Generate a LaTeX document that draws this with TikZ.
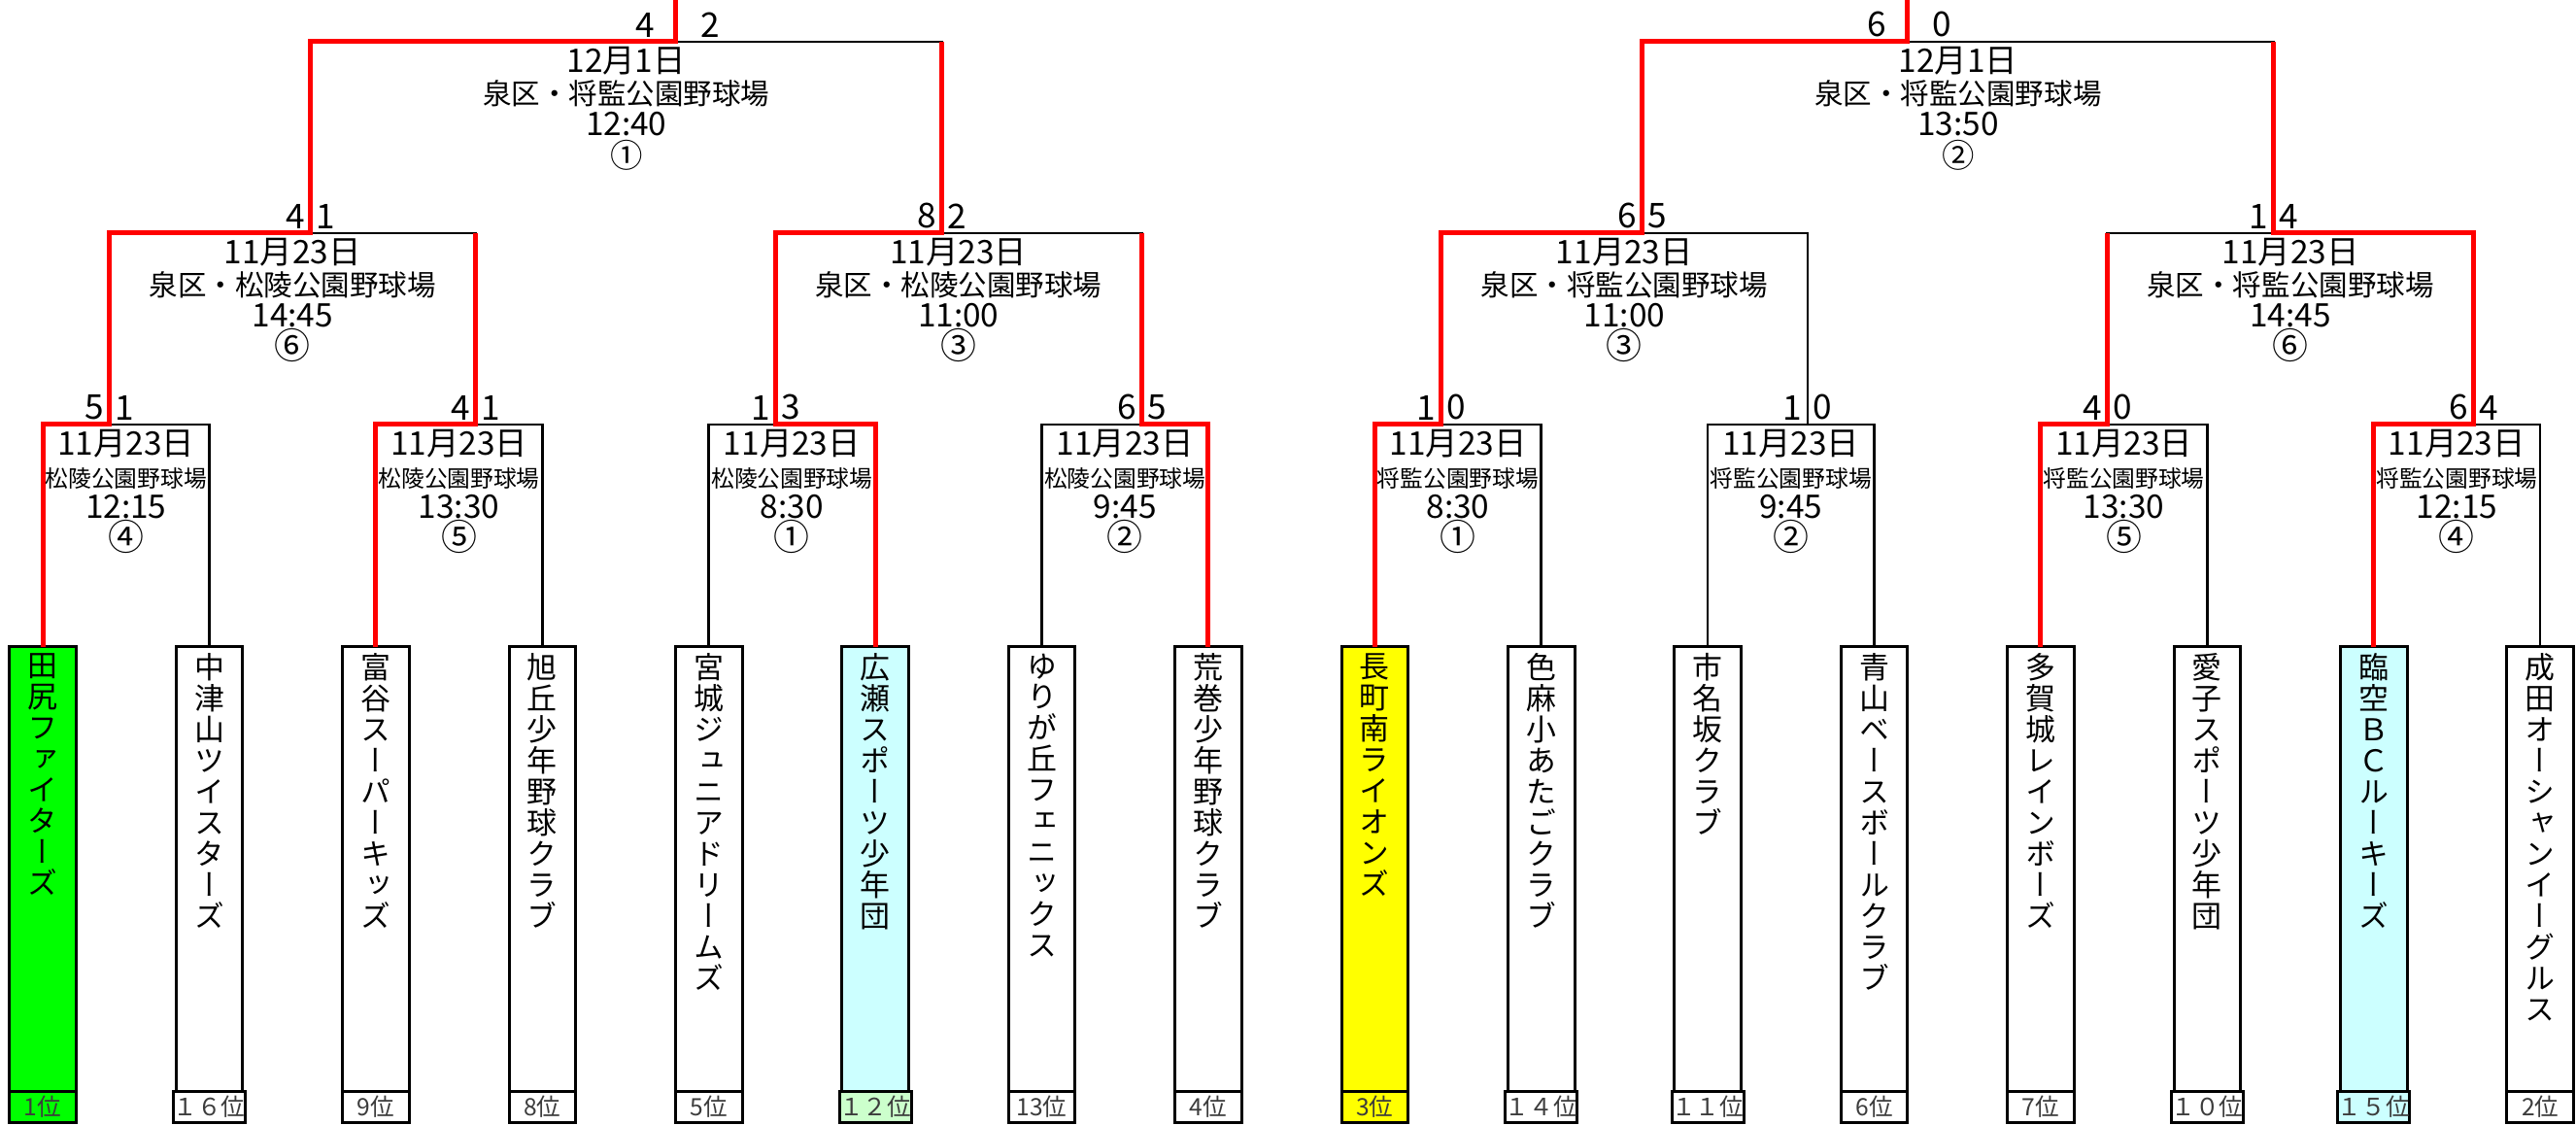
\documentclass[tikz,border=0pt]{standalone}
\usepackage{fontspec}
\setmainfont{Noto Sans CJK JP}
\newfontfamily\tatefont[RawFeature=+vert]{Noto Sans CJK JP}
\usepackage{tikz}
\usepackage{xcolor}
\usetikzlibrary{positioning, calc}

\definecolor{winred}{RGB}{255,0,0}
\definecolor{champ}{RGB}{0,255,0}
\definecolor{third}{RGB}{255,255,0}
\definecolor{pale}{RGB}{204,255,255}
\definecolor{palegreen}{RGB}{204,255,204}
\definecolor{rankgray}{RGB}{60,60,60}

\ExplSyntaxOn
\NewDocumentCommand\tate{m}
  {
    \vbox{\tl_map_inline:nn {#1} { \hbox_to_wd:nn {1em} { \hss ##1 \hss } }}
  }
\ExplSyntaxOff
\newcommand\venue[1]{{\fontsize{6.75pt}{9.25pt}\selectfont #1}}
\newcommand\hall[1]{{\fontsize{8.4pt}{9.25pt}\selectfont #1}}
\newcommand\gamenr[1]{{\fontsize{10.5pt}{9.25pt}\selectfont #1}}

\begin{document}
\begin{tikzpicture}[node distance=1.028cm,
  teambox/.style={draw,line width=0.03cm,rectangle,inner sep=0pt,outer sep=0pt,minimum width=0.686cm,minimum height=4.57cm},
  rankcell/.style={draw,line width=0.03cm,rectangle,inner sep=0pt,outer sep=0pt,minimum width=0.686cm,minimum height=0.325cm,text=rankgray,font=\fontsize{7pt}{7pt}\selectfont},
  tname/.style={anchor=north,inner sep=0pt,yshift=-0.06cm,font=\tatefont\fontsize{8.8pt}{9.1pt}\selectfont},
  matchinfo/.style={anchor=north,align=center,inner sep=0pt,font=\fontsize{9.5pt}{9.25pt}\selectfont},
  scoreL/.style={anchor=south east,inner sep=0pt,xshift=-0.05cm,yshift=0.04cm,font=\fontsize{10pt}{10pt}\selectfont},
  scoreR/.style={anchor=south west,inner sep=0pt,xshift=0.05cm,yshift=0.04cm,font=\fontsize{10pt}{10pt}\selectfont},
  bkline/.style={draw=black,line width=0.027cm},
  winline/.style={draw=winred,line width=0.05cm}]
  \useasboundingbox (0,0) rectangle (26.52,11.57);
  \fill[white] (0,0) rectangle (26.52,11.57);

  \node[teambox,fill=champ] (t1) at (0.441,2.625) {};
  \node[teambox,right=of t1] (t2) {};
  \node[teambox,right=of t2] (t3) {};
  \node[teambox,right=of t3] (t4) {};
  \node[teambox,right=of t4] (t5) {};
  \node[teambox,fill=pale,right=of t5] (t6) {};
  \node[teambox,right=of t6] (t7) {};
  \node[teambox,right=of t7] (t8) {};
  \node[teambox,fill=third,right=of t8] (t9) {};
  \node[teambox,right=of t9] (t10) {};
  \node[teambox,right=of t10] (t11) {};
  \node[teambox,right=of t11] (t12) {};
  \node[teambox,right=of t12] (t13) {};
  \node[teambox,right=of t13] (t14) {};
  \node[teambox,fill=pale,right=of t14] (t15) {};
  \node[teambox,right=of t15] (t16) {};

  \node[rankcell,fill=champ,below=0pt of t1] (r1) {1位};
  \node[rankcell,below=0pt of t2] (r2) {１６位};
  \node[rankcell,below=0pt of t3] (r3) {9位};
  \node[rankcell,below=0pt of t4] (r4) {8位};
  \node[rankcell,below=0pt of t5] (r5) {5位};
  \node[rankcell,fill=palegreen,below=0pt of t6] (r6) {１２位};
  \node[rankcell,below=0pt of t7] (r7) {13位};
  \node[rankcell,below=0pt of t8] (r8) {4位};
  \node[rankcell,fill=third,below=0pt of t9] (r9) {3位};
  \node[rankcell,below=0pt of t10] (r10) {１４位};
  \node[rankcell,below=0pt of t11] (r11) {１１位};
  \node[rankcell,below=0pt of t12] (r12) {6位};
  \node[rankcell,below=0pt of t13] (r13) {7位};
  \node[rankcell,below=0pt of t14] (r14) {１０位};
  \node[rankcell,fill=pale,below=0pt of t15] (r15) {１５位};
  \node[rankcell,below=0pt of t16] (r16) {2位};

  \node[tname] (n1) at (t1.north) {\tate{田尻ファイターズ}};
  \node[tname] (n2) at (t2.north) {\tate{中津山ツイスターズ}};
  \node[tname] (n3) at (t3.north) {\tate{富谷スーパーキッズ}};
  \node[tname] (n4) at (t4.north) {\tate{旭丘少年野球クラブ}};
  \node[tname] (n5) at (t5.north) {\tate{宮城ジュニアドリームズ}};
  \node[tname] (n6) at (t6.north) {\tate{広瀬スポーツ少年団}};
  \node[tname] (n7) at (t7.north) {\tate{ゆりが丘フェニックス}};
  \node[tname] (n8) at (t8.north) {\tate{荒巻少年野球クラブ}};
  \node[tname] (n9) at (t9.north) {\tate{長町南ライオンズ}};
  \node[tname] (n10) at (t10.north) {\tate{色麻小あたごクラブ}};
  \node[tname] (n11) at (t11.north) {\tate{市名坂クラブ}};
  \node[tname] (n12) at (t12.north) {\tate{青山ベースボールクラブ}};
  \node[tname] (n13) at (t13.north) {\tate{多賀城レインボーズ}};
  \node[tname] (n14) at (t14.north) {\tate{愛子スポーツ少年団}};
  \node[tname] (n15) at (t15.north) {\tate{臨空ＢＣルーキーズ}};
  \node[tname] (n16) at (t16.north) {\tate{成田オーシャンイーグルス}};

  \coordinate (m1) at ($(t1.north)+(0.686,2.29)$);
  \coordinate (m2) at ($(t4.north)+(-0.686,2.29)$);
  \coordinate (m3) at ($(t5.north)+(0.686,2.29)$);
  \coordinate (m4) at ($(t8.north)+(-0.686,2.29)$);
  \coordinate (m5) at ($(t9.north)+(0.686,2.29)$);
  \coordinate (m6) at ($(t12.north)+(-0.686,2.29)$);
  \coordinate (m7) at ($(t13.north)+(0.686,2.29)$);
  \coordinate (m8) at ($(t16.north)+(-0.686,2.29)$);
  \coordinate (q1) at ($(m1)+(2.07,1.97)$);
  \coordinate (q2) at ($(m3)+(1.714,1.97)$);
  \coordinate (q3) at ($(m5)+(2.07,1.97)$);
  \coordinate (q4) at ($(m7)+(1.714,1.97)$);
  \coordinate (f1) at ($(q1)+(3.757,1.97)$);
  \coordinate (f2) at ($(q3)+(2.73,1.97)$);
  \coordinate (top) at (0,11.57);

  \draw[bkline] (t1.north) |- (m1) -| (t2.north);
  \draw[bkline] (t3.north) |- (m2) -| (t4.north);
  \draw[bkline] (t5.north) |- (m3) -| (t6.north);
  \draw[bkline] (t7.north) |- (m4) -| (t8.north);
  \draw[bkline] (t9.north) |- (m5) -| (t10.north);
  \draw[bkline] (t11.north) |- (m6) -| (t12.north);
  \draw[bkline] (t13.north) |- (m7) -| (t14.north);
  \draw[bkline] (t15.north) |- (m8) -| (t16.north);
  \draw[bkline] (m1) |- (q1) -| (m2);
  \draw[bkline] (m3) |- (q2) -| (m4);
  \draw[bkline] (m5) |- (q3) -| (m6);
  \draw[bkline] (m7) |- (q4) -| (m8);
  \draw[bkline] (q1) |- (f1) -| (q2);
  \draw[bkline] (q3) |- (f2) -| (q4);

  \draw[winline] (t1.north) |- (m1) |- (q1) |- (f1) -- (f1 |- top);
  \draw[winline] (t3.north) |- (m2) -- (m2 |- q1);
  \draw[winline] (t6.north) |- (m3) |- (q2) -- (q2 |- f1);
  \draw[winline] (t8.north) |- (m4) -- (m4 |- q2);
  \draw[winline] (t9.north) |- (m5) |- (q3) |- (f2) -- (f2 |- top);
  \draw[winline] (t13.north) |- (m7) -- (m7 |- q4);
  \draw[winline] (t15.north) |- (m8) |- (q4) -- (q4 |- f2);

  \node[scoreL] (m1a) at (m1) {5};
  \node[scoreR] (m1b) at (m1) {1};
  \node[scoreL] (m2a) at (m2) {4};
  \node[scoreR] (m2b) at (m2) {1};
  \node[scoreL] (m3a) at (m3) {1};
  \node[scoreR] (m3b) at (m3) {3};
  \node[scoreL] (m4a) at (m4) {6};
  \node[scoreR] (m4b) at (m4) {5};
  \node[scoreL] (m5a) at (m5) {1};
  \node[scoreR] (m5b) at (m5) {0};
  \node[scoreL] (m6a) at (m6) {1};
  \node[scoreR] (m6b) at (m6) {0};
  \node[scoreL] (m7a) at (m7) {4};
  \node[scoreR] (m7b) at (m7) {0};
  \node[scoreL] (m8a) at (m8) {6};
  \node[scoreR] (m8b) at (m8) {4};
  \node[scoreL] (q1a) at (q1) {4};
  \node[scoreR] (q1b) at (q1) {1};
  \node[scoreL] (q2a) at (q2) {8};
  \node[scoreR] (q2b) at (q2) {2};
  \node[scoreL] (q3a) at (q3) {6};
  \node[scoreR] (q3b) at (q3) {5};
  \node[scoreL] (q4a) at (q4) {1};
  \node[scoreR] (q4b) at (q4) {4};
  \node[scoreL,xshift=-0.16cm] (f1a) at (f1) {4};
  \node[scoreR,xshift=0.2cm] (f1b) at (f1) {2};
  \node[scoreL,xshift=-0.16cm] (f2a) at (f2) {6};
  \node[scoreR,xshift=0.2cm] (f2b) at (f2) {0};

  \node[matchinfo] (i1) at ($(t1.north)!.5!(t2.north)+(0,2.24)$) {11月23日\\\venue{松陵公園野球場}\\12:15\\\gamenr{④}};
  \node[matchinfo] (i2) at ($(t3.north)!.5!(t4.north)+(0,2.24)$) {11月23日\\\venue{松陵公園野球場}\\13:30\\\gamenr{⑤}};
  \node[matchinfo] (i3) at ($(t5.north)!.5!(t6.north)+(0,2.24)$) {11月23日\\\venue{松陵公園野球場}\\8:30\\\gamenr{①}};
  \node[matchinfo] (i4) at ($(t7.north)!.5!(t8.north)+(0,2.24)$) {11月23日\\\venue{松陵公園野球場}\\9:45\\\gamenr{②}};
  \node[matchinfo] (i5) at ($(t9.north)!.5!(t10.north)+(0,2.24)$) {11月23日\\\venue{将監公園野球場}\\8:30\\\gamenr{①}};
  \node[matchinfo] (i6) at ($(t11.north)!.5!(t12.north)+(0,2.24)$) {11月23日\\\venue{将監公園野球場}\\9:45\\\gamenr{②}};
  \node[matchinfo] (i7) at ($(t13.north)!.5!(t14.north)+(0,2.24)$) {11月23日\\\venue{将監公園野球場}\\13:30\\\gamenr{⑤}};
  \node[matchinfo] (i8) at ($(t15.north)!.5!(t16.north)+(0,2.24)$) {11月23日\\\venue{将監公園野球場}\\12:15\\\gamenr{④}};
  \node[matchinfo] (i9) at ($(m1)!.5!(m2)+(0,1.92)$) {11月23日\\\hall{泉区・松陵公園野球場}\\14:45\\\gamenr{⑥}};
  \node[matchinfo] (i10) at ($(m3)!.5!(m4)+(0,1.92)$) {11月23日\\\hall{泉区・松陵公園野球場}\\11:00\\\gamenr{③}};
  \node[matchinfo] (i11) at ($(m5)!.5!(m6)+(0,1.92)$) {11月23日\\\hall{泉区・将監公園野球場}\\11:00\\\gamenr{③}};
  \node[matchinfo] (i12) at ($(m7)!.5!(m8)+(0,1.92)$) {11月23日\\\hall{泉区・将監公園野球場}\\14:45\\\gamenr{⑥}};
  \node[matchinfo] (i13) at ($(q1)!.5!(q2)+(0,1.92)$) {12月1日\\\hall{泉区・将監公園野球場}\\12:40\\①};
  \node[matchinfo] (i14) at ($(q3)!.5!(q4)+(0,1.92)$) {12月1日\\\hall{泉区・将監公園野球場}\\13:50\\②};
\end{tikzpicture}
\end{document}
